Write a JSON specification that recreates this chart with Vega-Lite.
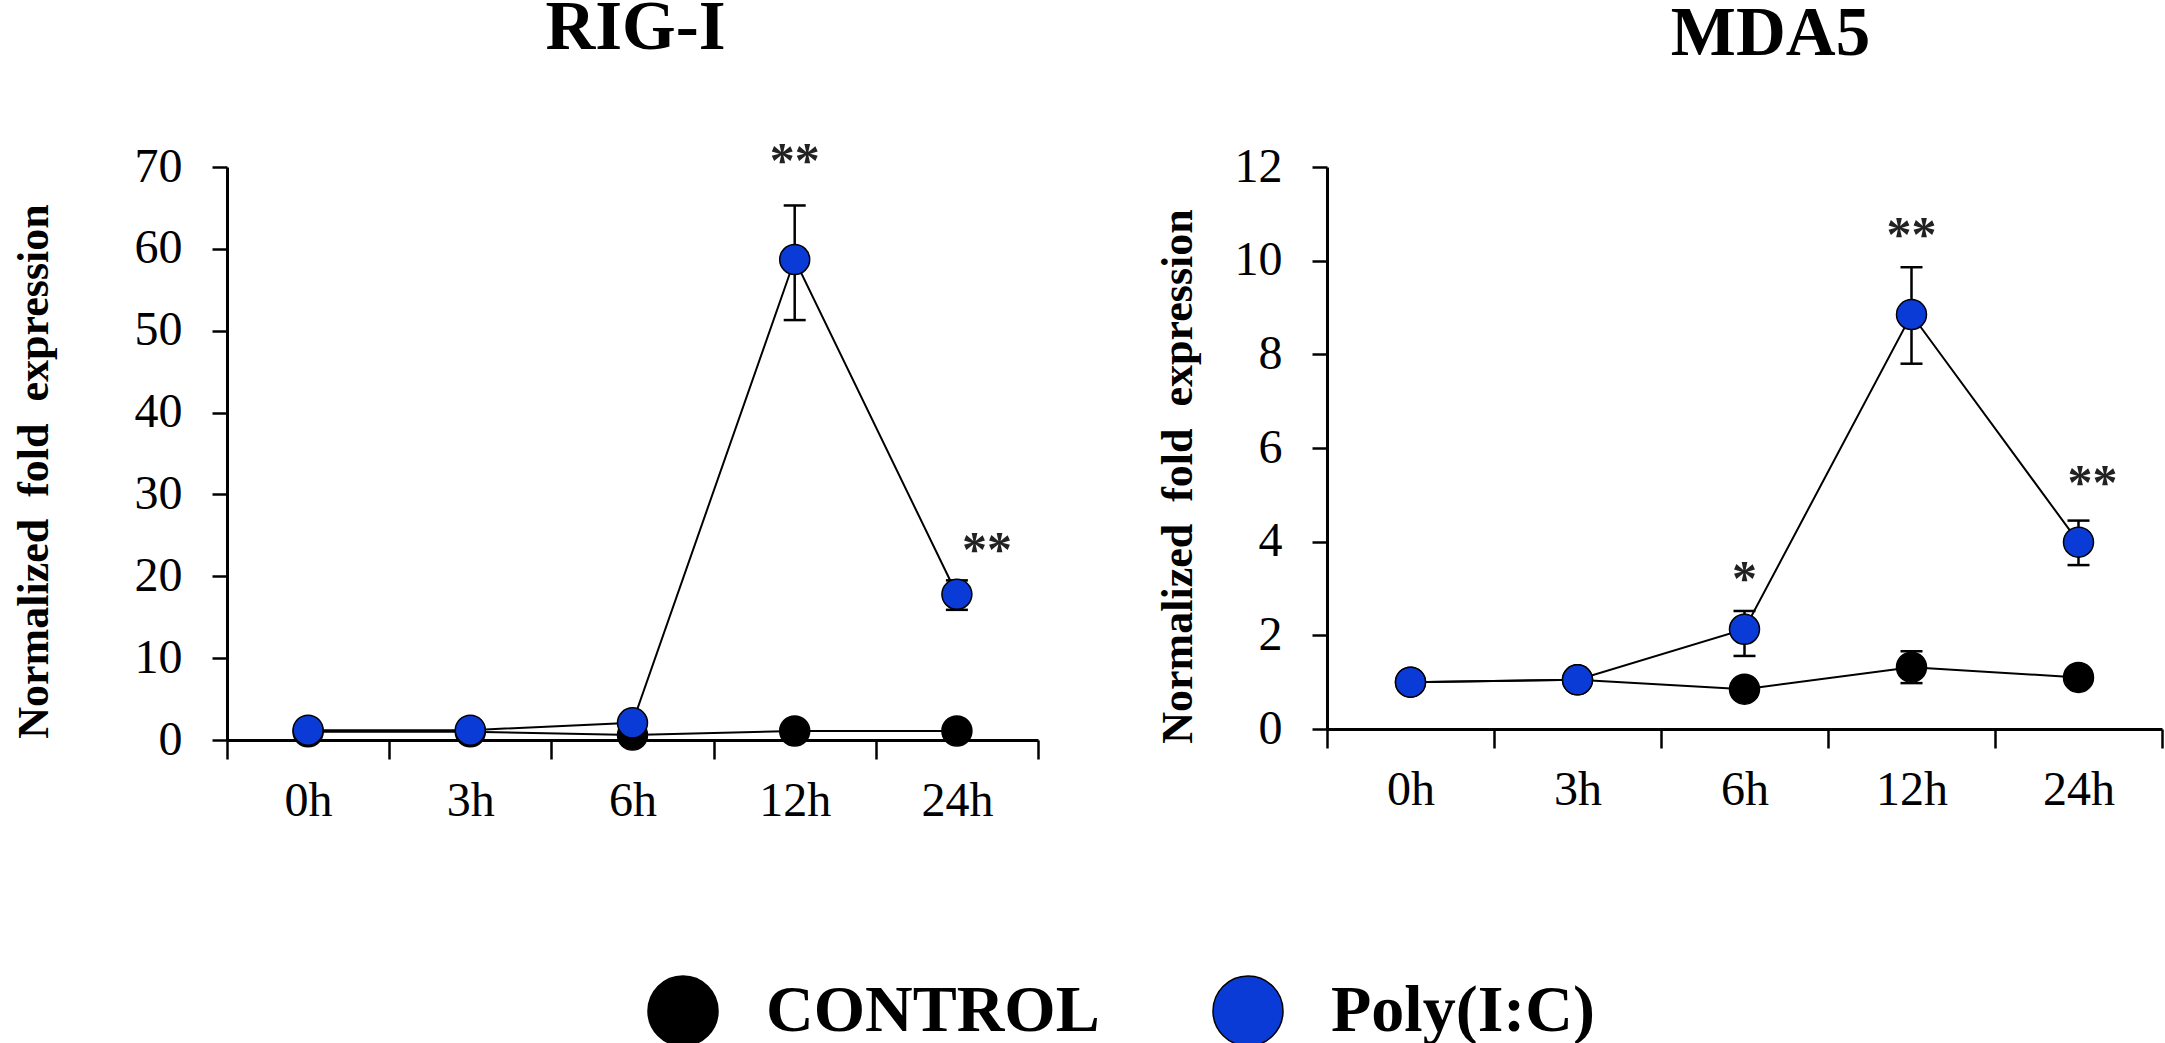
{
  "$schema": "https://vega.github.io/schema/vega-lite/v6.json",
  "background": "white",
  "padding": {"left": 12, "top": -6, "right": 0, "bottom": 0},
  "datasets": {
    "expr": [
      {"gene": "RIG-I", "group": "CONTROL", "time": "0h", "hours": 0, "mean": 1.0},
      {"gene": "RIG-I", "group": "CONTROL", "time": "3h", "hours": 3, "mean": 1.0},
      {"gene": "RIG-I", "group": "CONTROL", "time": "6h", "hours": 6, "mean": 0.6},
      {"gene": "RIG-I", "group": "CONTROL", "time": "12h", "hours": 12, "mean": 1.1},
      {"gene": "RIG-I", "group": "CONTROL", "time": "24h", "hours": 24, "mean": 1.1},
      {"gene": "RIG-I", "group": "Poly(I:C)", "time": "0h", "hours": 0, "mean": 1.2},
      {"gene": "RIG-I", "group": "Poly(I:C)", "time": "3h", "hours": 3, "mean": 1.2},
      {"gene": "RIG-I", "group": "Poly(I:C)", "time": "6h", "hours": 6, "mean": 2.1},
      {"gene": "RIG-I", "group": "Poly(I:C)", "time": "12h", "hours": 12, "mean": 58.7, "lo": 51.3, "hi": 65.3, "sig": "**"},
      {"gene": "RIG-I", "group": "Poly(I:C)", "time": "24h", "hours": 24, "mean": 17.8, "lo": 15.9, "hi": 19.5, "sig": "**"},
      {"gene": "MDA5", "group": "CONTROL", "time": "0h", "hours": 0, "mean": 1.0},
      {"gene": "MDA5", "group": "CONTROL", "time": "3h", "hours": 3, "mean": 1.05},
      {"gene": "MDA5", "group": "CONTROL", "time": "6h", "hours": 6, "mean": 0.85},
      {"gene": "MDA5", "group": "CONTROL", "time": "12h", "hours": 12, "mean": 1.32, "lo": 0.98, "hi": 1.66},
      {"gene": "MDA5", "group": "CONTROL", "time": "24h", "hours": 24, "mean": 1.1},
      {"gene": "MDA5", "group": "Poly(I:C)", "time": "0h", "hours": 0, "mean": 1.0},
      {"gene": "MDA5", "group": "Poly(I:C)", "time": "3h", "hours": 3, "mean": 1.05},
      {"gene": "MDA5", "group": "Poly(I:C)", "time": "6h", "hours": 6, "mean": 2.13, "lo": 1.56, "hi": 2.52, "sig": "*"},
      {"gene": "MDA5", "group": "Poly(I:C)", "time": "12h", "hours": 12, "mean": 8.85, "lo": 7.8, "hi": 9.86, "sig": "**"},
      {"gene": "MDA5", "group": "Poly(I:C)", "time": "24h", "hours": 24, "mean": 3.99, "lo": 3.5, "hi": 4.45, "sig": "**"}
    ]
  },
  "spacing": 116,
  "hconcat": [
    {
      "width": 811,
      "height": 573,
      "title": {"text": "RIG-I", "dx": 3},
      "data": {"name": "expr"},
      "transform": [{"filter": "datum.gene === 'RIG-I'"}],
      "encoding": {
        "x": {
          "field": "time",
          "type": "ordinal",
          "scale": {"domain": ["0h", "3h", "6h", "12h", "24h"], "paddingInner": 0, "paddingOuter": 0},
          "axis": {"title": null, "tickBand": "extent", "labelAngle": 0}
        }
      },
      "layer": [
        {
          "mark": {"type": "line", "color": "black", "strokeWidth": 2},
          "encoding": {
            "y": {
              "field": "mean",
              "type": "quantitative",
              "scale": {"domain": [0, 70]},
              "axis": {
                "title": "Normalized\u00a0 fold\u00a0 expression",
                "values": [0, 10, 20, 30, 40, 50, 60, 70],
                "titlePadding": 78,
                "titleY": 304
              }
            },
            "detail": {"field": "group"},
            "order": {"field": "hours", "type": "quantitative"}
          }
        },
        {
          "transform": [{"filter": "datum.hi != null"}],
          "mark": {"type": "rule", "color": "black", "strokeWidth": 2.5},
          "encoding": {
            "y": {"field": "lo", "type": "quantitative"},
            "y2": {"field": "hi"}
          }
        },
        {
          "transform": [{"filter": "datum.hi != null"}],
          "mark": {"type": "tick", "color": "black", "size": 22, "thickness": 2.5, "opacity": 1},
          "encoding": {"y": {"field": "lo", "type": "quantitative"}}
        },
        {
          "transform": [{"filter": "datum.hi != null"}],
          "mark": {"type": "tick", "color": "black", "size": 22, "thickness": 2.5, "opacity": 1},
          "encoding": {"y": {"field": "hi", "type": "quantitative"}}
        },
        {
          "mark": {"type": "point", "filled": true, "shape": "circle", "size": 900, "stroke": "black", "strokeWidth": 1.5, "opacity": 1},
          "encoding": {
            "y": {"field": "mean", "type": "quantitative"},
            "color": {
              "field": "group",
              "type": "nominal",
              "scale": {"domain": ["CONTROL", "Poly(I:C)"], "range": ["#000000", "#0b3bd7"]},
              "legend": {
                "orient": "none",
                "legendX": 420,
                "legendY": 808,
                "direction": "horizontal",
                "title": null,
                "symbolType": "circle",
                "symbolSize": 4900,
                "symbolStrokeColor": "black",
                "symbolStrokeWidth": 1.5,
                "labelFont": "Liberation Serif",
                "labelFontSize": 66,
                "labelFontWeight": "bold",
                "labelColor": "black",
                "labelOffset": 47,
                "labelLimit": 0,
                "columnPadding": 110
              }
            }
          }
        },
        {
          "transform": [{"filter": "datum.sig != null && datum.time !== '24h'"}],
          "mark": {"type": "text", "font": "Liberation Serif", "fontWeight": "bold", "fontSize": 50, "baseline": "alphabetic", "dy": -28, "color": "#222222"},
          "encoding": {
            "y": {"field": "hi", "type": "quantitative"},
            "text": {"field": "sig"}
          }
        },
        {
          "transform": [{"filter": "datum.sig != null && datum.time === '24h'"}],
          "mark": {"type": "text", "font": "Liberation Serif", "fontWeight": "bold", "fontSize": 50, "baseline": "alphabetic", "dy": -14, "dx": 30, "color": "#222222"},
          "encoding": {
            "y": {"field": "hi", "type": "quantitative"},
            "text": {"field": "sig"}
          }
        }
      ]
    },
    {
      "width": 835,
      "height": 562,
      "title": {"text": "MDA5", "dx": 26},
      "data": {"name": "expr"},
      "transform": [{"filter": "datum.gene === 'MDA5'"}],
      "encoding": {
        "x": {
          "field": "time",
          "type": "ordinal",
          "scale": {"domain": ["0h", "3h", "6h", "12h", "24h"], "paddingInner": 0, "paddingOuter": 0},
          "axis": {"title": null, "tickBand": "extent", "labelAngle": 0}
        }
      },
      "layer": [
        {
          "mark": {"type": "line", "color": "black", "strokeWidth": 2},
          "encoding": {
            "y": {
              "field": "mean",
              "type": "quantitative",
              "scale": {"domain": [0, 12]},
              "axis": {
                "title": "Normalized\u00a0 fold\u00a0 expression",
                "values": [0, 2, 4, 6, 8, 10, 12],
                "titlePadding": 34,
                "titleY": 309
              }
            },
            "detail": {"field": "group"},
            "order": {"field": "hours", "type": "quantitative"}
          }
        },
        {
          "transform": [{"filter": "datum.hi != null"}],
          "mark": {"type": "rule", "color": "black", "strokeWidth": 2.5},
          "encoding": {
            "y": {"field": "lo", "type": "quantitative"},
            "y2": {"field": "hi"}
          }
        },
        {
          "transform": [{"filter": "datum.hi != null"}],
          "mark": {"type": "tick", "color": "black", "size": 22, "thickness": 2.5, "opacity": 1},
          "encoding": {"y": {"field": "lo", "type": "quantitative"}}
        },
        {
          "transform": [{"filter": "datum.hi != null"}],
          "mark": {"type": "tick", "color": "black", "size": 22, "thickness": 2.5, "opacity": 1},
          "encoding": {"y": {"field": "hi", "type": "quantitative"}}
        },
        {
          "mark": {"type": "point", "filled": true, "shape": "circle", "size": 900, "stroke": "black", "strokeWidth": 1.5, "opacity": 1},
          "encoding": {
            "y": {"field": "mean", "type": "quantitative"},
            "color": {
              "field": "group",
              "type": "nominal",
              "scale": {"domain": ["CONTROL", "Poly(I:C)"], "range": ["#000000", "#0b3bd7"]},
              "legend": {
                "orient": "none",
                "legendX": 420,
                "legendY": 808,
                "direction": "horizontal",
                "title": null,
                "symbolType": "circle",
                "symbolSize": 4900,
                "symbolStrokeColor": "black",
                "symbolStrokeWidth": 1.5,
                "labelFont": "Liberation Serif",
                "labelFontSize": 66,
                "labelFontWeight": "bold",
                "labelColor": "black",
                "labelOffset": 47,
                "labelLimit": 0,
                "columnPadding": 110
              }
            }
          }
        },
        {
          "transform": [{"filter": "datum.sig != null && datum.time !== '24h'"}],
          "mark": {"type": "text", "font": "Liberation Serif", "fontWeight": "bold", "fontSize": 50, "baseline": "alphabetic", "dy": -16, "color": "#222222"},
          "encoding": {
            "y": {"field": "hi", "type": "quantitative"},
            "text": {"field": "sig"}
          }
        },
        {
          "transform": [{"filter": "datum.sig != null && datum.time === '24h'"}],
          "mark": {"type": "text", "font": "Liberation Serif", "fontWeight": "bold", "fontSize": 50, "baseline": "alphabetic", "dy": -22, "dx": 14, "color": "#222222"},
          "encoding": {
            "y": {"field": "hi", "type": "quantitative"},
            "text": {"field": "sig"}
          }
        }
      ]
    }
  ],
  "config": {
    "view": {"stroke": null},
    "axis": {
      "grid": false,
      "domainColor": "black",
      "domainWidth": 3,
      "tickColor": "black",
      "tickWidth": 2.5,
      "labelFont": "Liberation Serif",
      "labelFontSize": 48,
      "labelColor": "black",
      "titleFont": "Liberation Serif",
      "titleFontWeight": "bold",
      "titleFontSize": 44,
      "titleColor": "black"
    },
    "axisX": {"tickSize": 19, "labelPadding": 18},
    "axisY": {"tickSize": 15, "labelPadding": 30},
    "title": {
      "font": "Liberation Serif",
      "fontSize": 69,
      "fontWeight": "bold",
      "color": "black",
      "anchor": "middle",
      "frame": "group",
      "offset": 74
    }
  }
}
